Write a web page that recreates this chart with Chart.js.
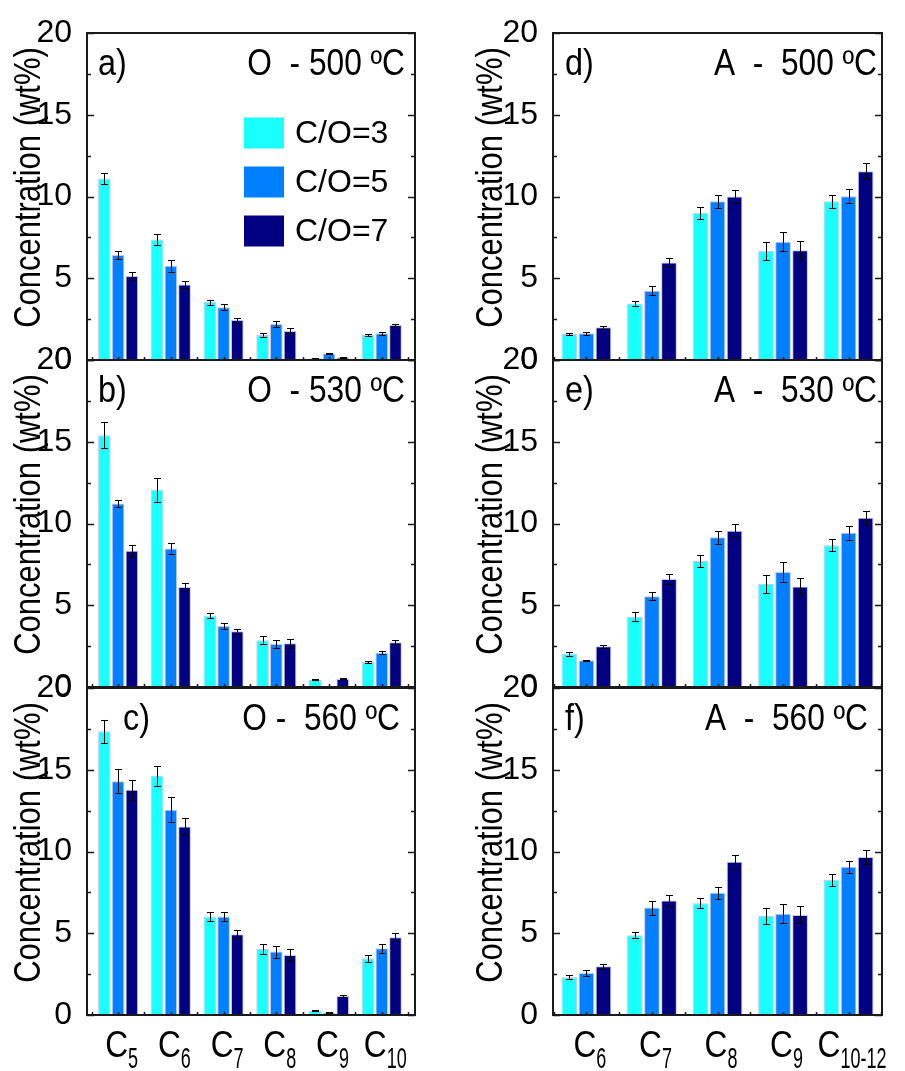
<!DOCTYPE html>
<html>
<head>
<meta charset="utf-8">
<script src="https://cdn.jsdelivr.net/npm/chart.js@4.4.0/dist/chart.umd.min.js"></script>
<style>
  body { margin: 0; background: #fff; width: 905px; height: 1071px; position: relative; overflow: hidden; }
  canvas { position: absolute; }
</style>
</head>
<body>
<canvas id="pa"></canvas>
<canvas id="pb"></canvas>
<canvas id="pc"></canvas>
<canvas id="pd"></canvas>
<canvas id="pe"></canvas>
<canvas id="pf"></canvas>
<script>
// series / categories
const seriesLabels = ['C/O=3', 'C/O=5', 'C/O=7'];
const seriesColors = ['#1affff', '#0080ff', '#000080'];
const oCarbons = ['5', '6', '7', '8', '9', '10'];
const aCarbons = ['6', '7', '8', '9', '10-12'];
const yTicks = [0, 5, 10, 15, 20];
const yTitle = 'Concentration (wt%)';

// O - olefins (wt%), one row per C/O ratio
const o500 = [[11.1, 7.37, 3.54, 1.53, 0.10, 1.55],
              [6.42, 5.76, 3.22, 2.20, 0.40, 1.63],
              [5.13, 4.62, 2.44, 1.77, 0.16, 2.14]];
const o500Err = [[0.31, 0.33, 0.15, 0.15, 0.02, 0.06],
                 [0.27, 0.38, 0.18, 0.21, 0.03, 0.08],
                 [0.23, 0.19, 0.14, 0.19, 0.02, 0.08]];
const o530 = [[15.4, 12.06, 4.37, 2.86, 0.43, 1.53],
              [11.22, 8.47, 3.73, 2.63, 0.06, 2.10],
              [8.33, 6.12, 3.41, 2.67, 0.49, 2.73]];
const o530Err = [[0.80, 0.73, 0.16, 0.24, 0.03, 0.06],
                 [0.22, 0.36, 0.18, 0.23, 0.02, 0.08],
                 [0.35, 0.27, 0.15, 0.27, 0.03, 0.12]];
const o560 = [[17.35, 14.63, 6.02, 4.04, 0.27, 3.47],
              [14.3, 12.55, 6.02, 3.88, 0.16, 4.08],
              [13.78, 11.53, 4.94, 3.67, 1.16, 4.76]];
const o560Err = [[0.70, 0.61, 0.29, 0.33, 0.03, 0.23],
                 [0.73, 0.76, 0.30, 0.37, 0.03, 0.26],
                 [0.61, 0.50, 0.26, 0.36, 0.07, 0.25]];

// A - aromatics (wt%)
const a500 = [[1.59, 3.46, 9.0, 6.68, 9.71],
              [1.63, 4.24, 9.71, 7.23, 10.02],
              [2.0, 5.97, 10.0, 6.72, 11.55]];
const a500Err = [[0.05, 0.15, 0.37, 0.56, 0.40],
                 [0.08, 0.27, 0.40, 0.59, 0.42],
                 [0.08, 0.27, 0.39, 0.56, 0.48]];
const a530 = [[2.04, 4.29, 7.71, 6.31, 8.67],
              [1.63, 5.55, 9.16, 7.04, 9.43],
              [2.49, 6.61, 9.55, 6.14, 10.35]];
const a530Err = [[0.12, 0.28, 0.35, 0.54, 0.37],
                 [0.03, 0.25, 0.39, 0.60, 0.42],
                 [0.10, 0.29, 0.40, 0.52, 0.42]];
const a560 = [[2.31, 4.88, 6.84, 6.06, 8.27],
              [2.57, 6.57, 7.47, 6.20, 9.06],
              [2.98, 7.00, 9.37, 6.12, 9.67]];
const a560Err = [[0.12, 0.18, 0.30, 0.51, 0.36],
                 [0.17, 0.43, 0.35, 0.57, 0.38],
                 [0.15, 0.32, 0.43, 0.52, 0.43]];

const FONT = '"Liberation Sans", Arial, sans-serif';
Chart.defaults.font.family = FONT;
Chart.defaults.color = '#000';

// layout of the two columns and three rows
const PAD = 30;
const cols = [
  { left: 0, width: 440, plotL: 87, plotR: 415, min: -0.59, max: 5.63, titleX: 27 },
  { left: 450, width: 455, plotL: 553, plotR: 882, min: -0.51, max: 4.51, titleX: 489 }
];
const rows = [
  { top: 33, bottom: 360, extra: 30 },
  { top: 360, bottom: 687, extra: 30 },
  { top: 688, bottom: 1015, extra: 56 }
];

const panels = [
  { id: 'pa', col: 0, row: 0, tag: 'a)', tagX: 11, title: 'O  - 500 ºC', titleR: 10, vals: o500, errs: o500Err, cats: oCarbons, legend: true },
  { id: 'pb', col: 0, row: 1, tag: 'b)', tagX: 11, title: 'O  - 530 ºC', titleR: 10, vals: o530, errs: o530Err, cats: oCarbons },
  { id: 'pc', col: 0, row: 2, tag: 'c)', tagX: 36, title: 'O -  560 ºC', titleR: 15, vals: o560, errs: o560Err, cats: oCarbons },
  { id: 'pd', col: 1, row: 0, tag: 'd)', tagX: 12, title: 'A  -  500 ºC', titleR: 5, vals: a500, errs: a500Err, cats: aCarbons },
  { id: 'pe', col: 1, row: 1, tag: 'e)', tagX: 12, title: 'A  -  530 ºC', titleR: 5, vals: a530, errs: a530Err, cats: aCarbons },
  { id: 'pf', col: 1, row: 2, tag: 'f)', tagX: 12, title: 'A  -  560 ºC', titleR: 14, vals: a560, errs: a560Err, cats: aCarbons }
];

// text squeezed horizontally, like the narrow font of the original
function squeezed(ctx, txt, x, y, size, sx, align) {
  ctx.font = size + 'px ' + FONT;
  const w = ctx.measureText(txt).width * sx;
  let x0 = x;
  if (align === 'right') x0 = x - w;
  if (align === 'center') x0 = x - w / 2;
  ctx.save();
  ctx.translate(x0, y);
  ctx.scale(sx, 1);
  ctx.textAlign = 'left';
  ctx.fillText(txt, 0, 0);
  ctx.restore();
  return w;
}

const decor = {
  id: 'decor',
  afterDatasetsDraw(chart, args, opts) {
    const ctx = chart.ctx;
    const y = chart.scales.y;
    ctx.save();
    ctx.strokeStyle = '#000';
    ctx.lineWidth = 1;
    chart.data.datasets.forEach((ds, i) => {
      const meta = chart.getDatasetMeta(i);
      meta.data.forEach((bar, j) => {
        const v = ds.data[j].y, e = ds.errors[j];
        const y1 = Math.round(y.getPixelForValue(v + e)) + 0.5;
        const y2 = Math.round(y.getPixelForValue(v - e)) + 0.5;
        const x = Math.round(bar.x) + 0.5;
        ctx.beginPath();
        ctx.moveTo(x, y1); ctx.lineTo(x, y2);
        ctx.moveTo(x - 3.5, y1); ctx.lineTo(x + 3.5, y1);
        ctx.moveTo(x - 3.5, y2); ctx.lineTo(x + 3.5, y2);
        ctx.stroke();
      });
    });
    ctx.restore();
  },
  afterDraw(chart, args, opts) {
    const ctx = chart.ctx;
    const a = chart.chartArea;
    const y = chart.scales.y, x = chart.scales.x;
    const offL = chart.canvas.offsetLeft;
    ctx.save();
    // frame
    ctx.strokeStyle = '#1a1a1a';
    ctx.lineWidth = 2;
    ctx.strokeRect(a.left, a.top, a.right - a.left, a.bottom - a.top);
    // inward y ticks on both sides
    ctx.lineWidth = 1.5;
    ctx.beginPath();
    for (let v = 0; v <= 20; v += 2.5) {
      const py = Math.round(y.getPixelForValue(v)) + 0.5;
      const len = v % 5 === 0 ? 7 : 4;
      ctx.moveTo(a.left, py); ctx.lineTo(a.left + len, py);
      ctx.moveTo(a.right - len, py); ctx.lineTo(a.right, py);
    }
    // tiny x ticks
    for (let k = Math.ceil(x.min * 2) / 2; k <= x.max; k += 0.5) {
      const px = Math.round(x.getPixelForValue(k)) + 0.5;
      ctx.moveTo(px, a.bottom); ctx.lineTo(px, a.bottom - 3);
    }
    ctx.stroke();

    ctx.fillStyle = '#000';
    ctx.textBaseline = 'alphabetic';

    // y axis title, rotated
    ctx.save();
    ctx.translate(opts.titleX - offL + 13, (a.top + a.bottom) / 2 - 9);
    ctx.rotate(-Math.PI / 2);
    squeezed(ctx, yTitle, 0, 0, 36, 0.86, 'center');
    ctx.restore();

    // panel tag and title
    squeezed(ctx, opts.tag, a.left + opts.tagX, a.top + 42, 36, 0.9, 'left');
    squeezed(ctx, opts.title, a.right - opts.titleR, a.top + 42, 36, 0.88, 'right');

    // legend inside panel a
    if (opts.legend) {
      ctx.textAlign = 'left';
      ctx.textBaseline = 'middle';
      ctx.font = '32px ' + FONT;
      seriesLabels.forEach((lab, i) => {
        const cy = a.top + 100 + i * 49;
        ctx.fillStyle = seriesColors[i];
        ctx.fillRect(244 - offL, cy - 15.5, 40, 31);
        ctx.fillStyle = '#000';
        ctx.fillText(lab, 295 - offL, cy + 1);
      });
      ctx.textBaseline = 'alphabetic';
    }

    // category labels with subscripts
    if (opts.xlabels) {
      opts.cats.forEach((c, i) => {
        const px = x.getPixelForValue(i);
        ctx.font = '36px ' + FONT;
        const wC = ctx.measureText('C').width * 0.88;
        ctx.font = '30px ' + FONT;
        const wS = ctx.measureText(c).width * 0.6;
        const start = px + 3.5 - (wC + wS) / 2;
        squeezed(ctx, 'C', start, a.bottom + 42, 36, 0.88, 'left');
        squeezed(ctx, c, start + wC, a.bottom + 53, 30, 0.6, 'left');
      });
    }
    ctx.restore();
  }
};

function crearPanel(p) {
  const col = cols[p.col], row = rows[p.row];
  const canvas = document.getElementById(p.id);
  canvas.width = col.width;
  canvas.height = PAD + (row.bottom - row.top) + row.extra;
  canvas.style.left = col.left + 'px';
  canvas.style.top = (row.top - PAD) + 'px';

  const datasets = p.vals.map((serie, s) => ({
    label: seriesLabels[s],
    data: serie.map((v, i) => ({ x: i, y: v })),
    errors: p.errs[s],
    backgroundColor: seriesColors[s],
    borderColor: 'rgba(190,190,235,0.9)',
    borderWidth: 1,
    categoryPercentage: 0.78,
    barPercentage: 0.92
  }));

  new Chart(canvas.getContext('2d'), {
    type: 'bar',
    data: { datasets: datasets },
    plugins: [decor],
    options: {
      responsive: false,
      devicePixelRatio: 1,
      animation: false,
      layout: { padding: { top: PAD, bottom: row.extra, left: 0, right: col.left + col.width - col.plotR } },
      scales: {
        x: { type: 'linear', min: col.min, max: col.max, offset: false, display: false },
        y: {
          min: 0, max: 20,
          grid: { display: false },
          border: { display: false },
          ticks: { stepSize: 5, padding: 7, font: { size: 32 }, color: '#000' },
          afterBuildTicks: (scale) => { scale.ticks = yTicks.map(v => ({ value: v })); },
          afterFit: (scale) => { scale.width = col.plotL - col.left; }
        }
      },
      plugins: {
        legend: { display: false },
        tooltip: { enabled: false },
        decor: {
          tag: p.tag, tagX: p.tagX, title: p.title, titleR: p.titleR, titleX: col.titleX,
          legend: !!p.legend, xlabels: p.row === 2, cats: p.cats
        }
      }
    }
  });
}

panels.forEach(crearPanel);
</script>
</body>
</html>
